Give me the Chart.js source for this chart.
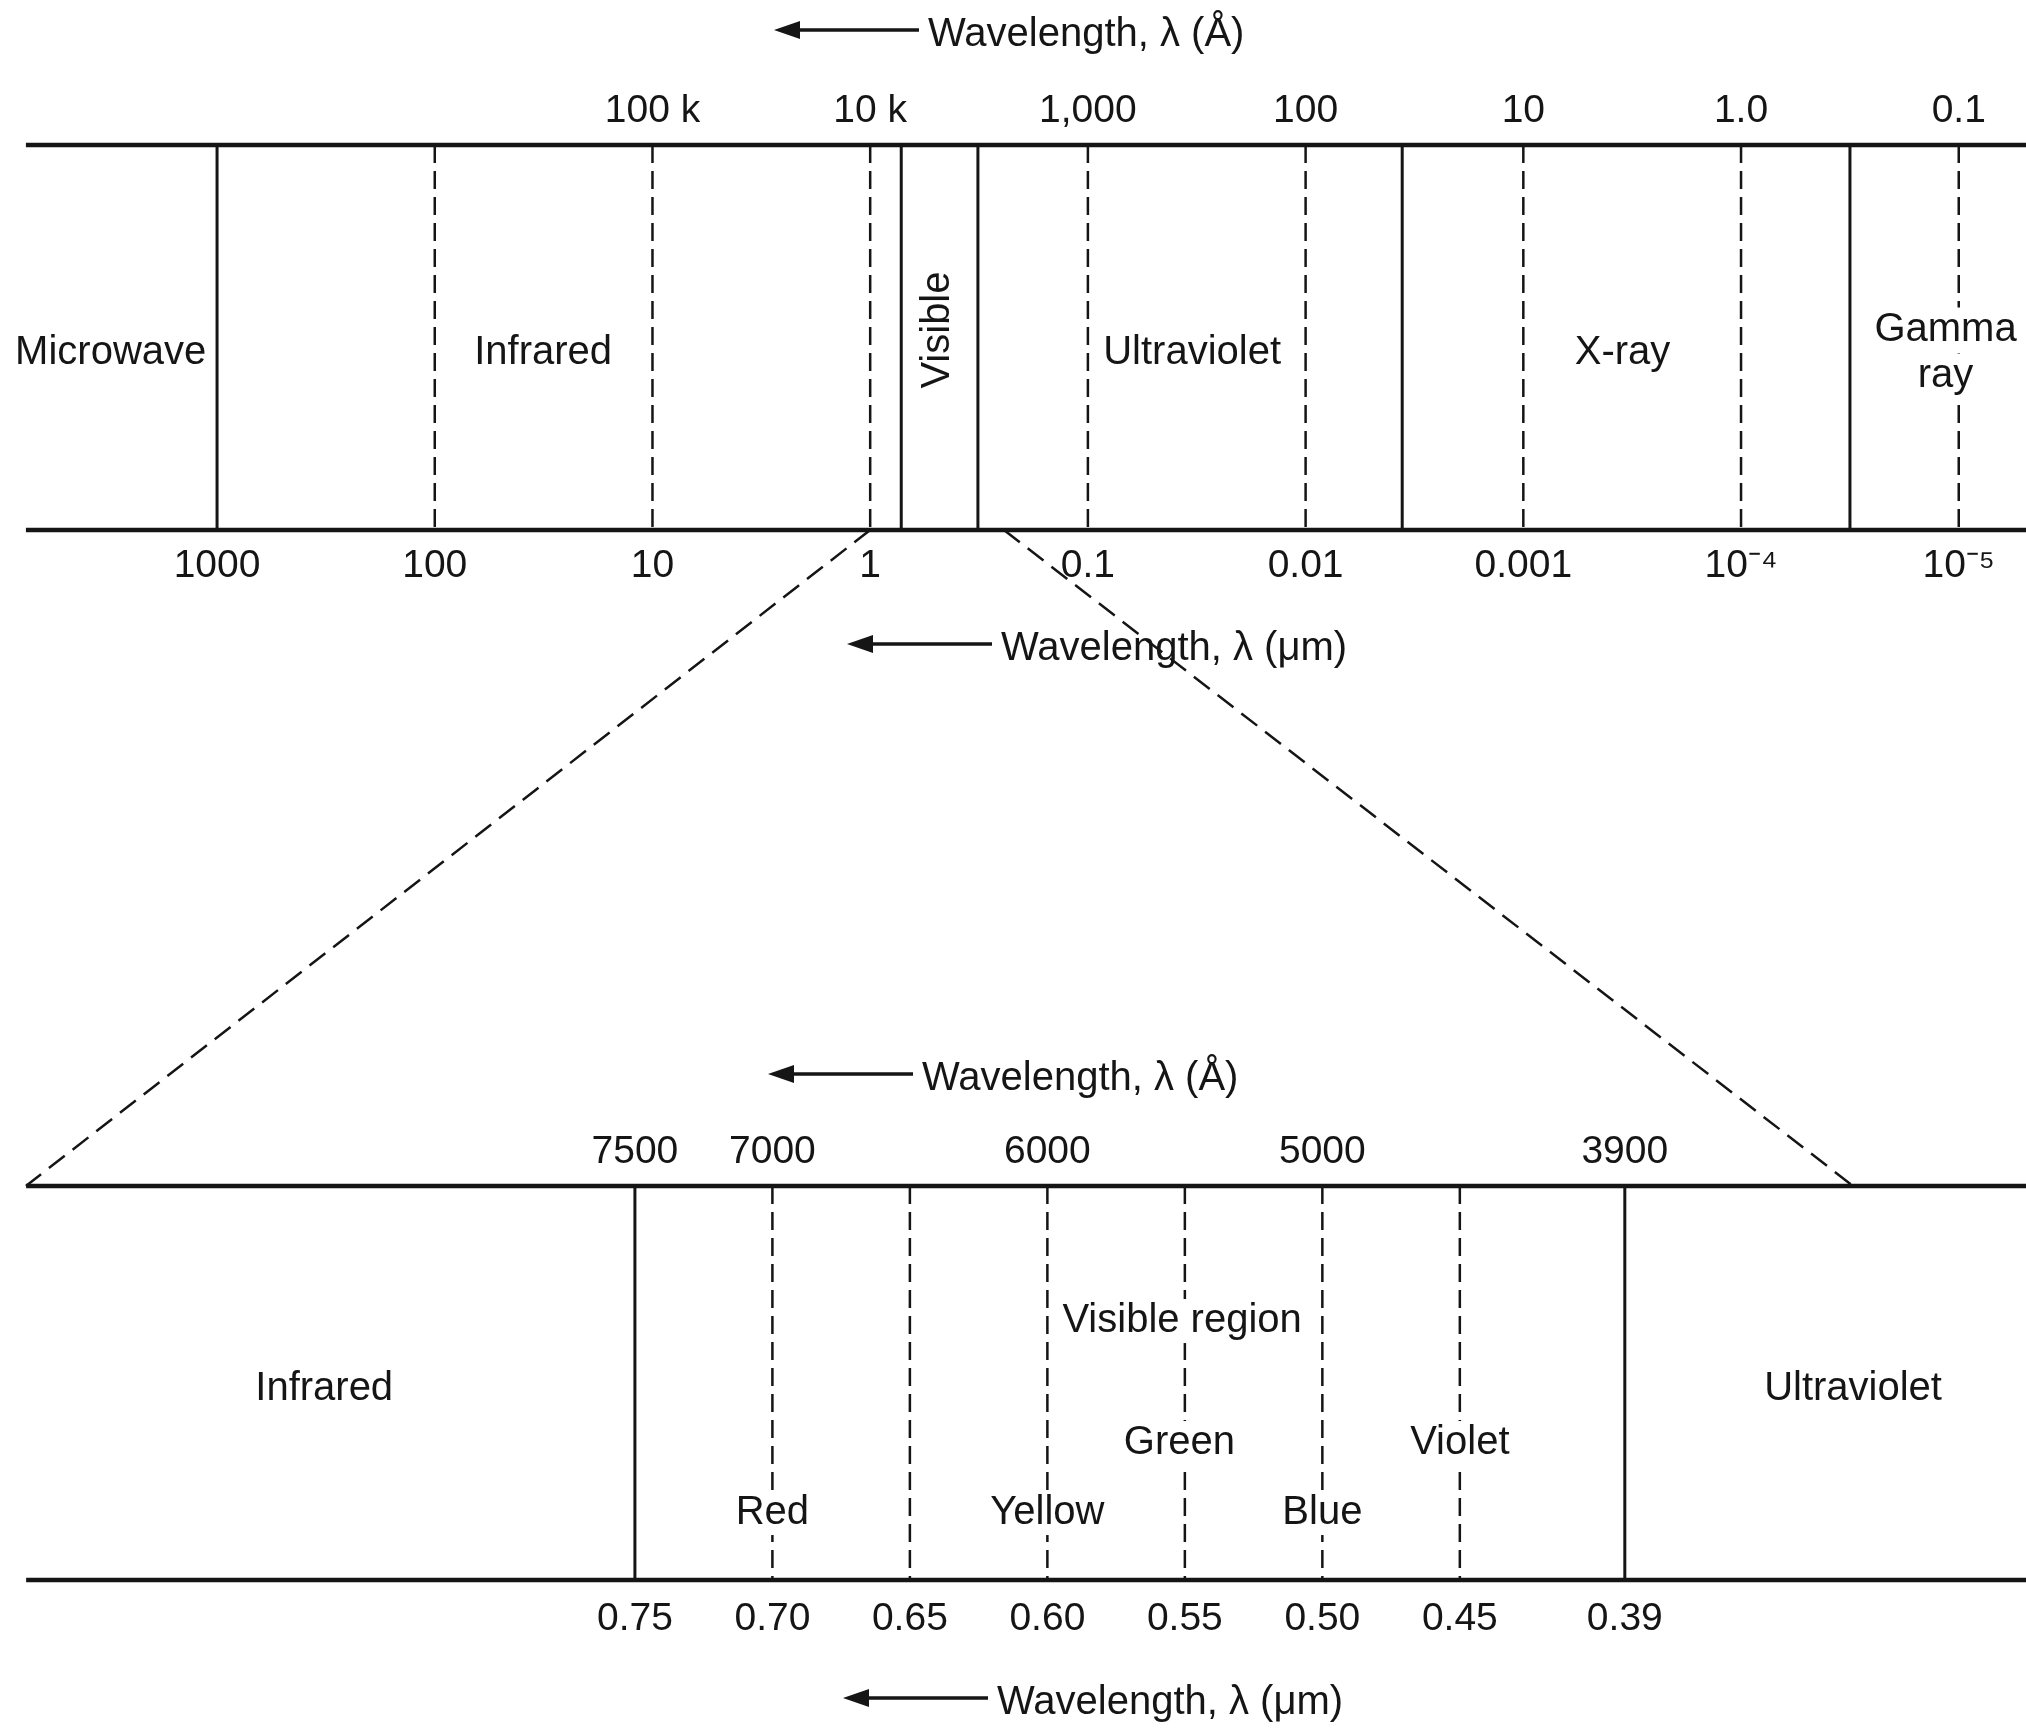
<!DOCTYPE html>
<html>
<head>
<meta charset="utf-8">
<script src="https://cdn.jsdelivr.net/npm/chart.js@4.4.1/dist/chart.umd.min.js"></script>
<style>
    html, body { margin: 0; padding: 0; background: #fff; }
</style>
</head>
<body>
<canvas id="spectrum" width="2026" height="1728"></canvas>
<script>
/*Espectro completo - comprimentos de onda em micrometros*/
const umTicks = [1000, 100, 10, 1, 0.1, 0.01, 0.001, 1e-4, 1e-5]
const umTickLabels = ['1000', '100', '10', '1', '0.1', '0.01', '0.001', '10⁻⁴', '10⁻⁵']
const angTicks = [1e5, 1e4, 1000, 100, 10, 1, 0.1]
const angTickLabels = ['100 k', '10 k', '1,000', '100', '10', '1.0', '0.1']
const regionEdges = [1000, 0.72, 0.32, 0.0036, 3.16e-5]
const decadeLines = [100, 10, 1, 0.1, 0.01, 0.001, 1e-4, 1e-5]
const regionNames = ['Microwave', 'Infrared', 'Visible', 'Ultraviolet', 'X-ray', 'Gamma\nray']
const regionCenters = [3080, 31.8, 0.49, 0.0332, 3.5e-4, 1.15e-5]
const spectrumRange = [4.91e-6, 9930]
const spectrumStart = 7550
const zoomFrom = [1, 0.243]
const zoomTo = [7550, 3.06e-5]

/*Regiao visivel*/
const visTicks = [0.75, 0.70, 0.65, 0.60, 0.55, 0.50, 0.45, 0.39]
const visTickLabels = ['0.75', '0.70', '0.65', '0.60', '0.55', '0.50', '0.45', '0.39']
const visAngTicks = [7500, 7000, 6000, 5000, 3900]
const visAngTickLabels = ['7500', '7000', '6000', '5000', '3900']
const visEdges = [0.75, 0.39]
const colorLines = [0.70, 0.65, 0.60, 0.55, 0.50, 0.45]
const visNames = ['Infrared', 'Visible region', 'Ultraviolet']
const visNameCenters = [0.863, 0.551, 0.307]
const colorNames = ['Red', 'Yellow', 'Green', 'Blue', 'Violet']
const colorCenters = [0.70, 0.60, 0.552, 0.50, 0.45]
const visRange = [0.2441, 0.9809]
const visStart = 0.9714

/*Layout: linhas em % da altura (eixo y de cima para baixo)*/
const INK = '#151515'
const FONT = '"Liberation Sans", Arial, Helvetica, sans-serif'
const BAND1 = {top: 8.39, bottom: 30.67}
const BAND2 = {top: 68.63, bottom: 91.44}
const ROW_TOP = 20.4
const ROW_VISIBLE = 19.1
const visNameRows = [80.38, 76.45, 80.38]
const colorRows = [87.56, 87.56, 83.51, 87.56, 83.51]
const titles = [
    {text: 'Wavelength, λ (Å)', x: 928, row: 2.03},
    {text: 'Wavelength, λ (μm)', x: 1001, row: 37.56},
    {text: 'Wavelength, λ (Å)', x: 922, row: 62.44},
    {text: 'Wavelength, λ (μm)', x: 997, row: 98.55}
]


function segment(axis, x1, y1, x2, y2, width, dash) {
    return {
        xAxisID: axis,
        yAxisID: 'y',
        data: [{x: x1, y: y1}, {x: x2, y: y2}],
        showLine: true,
        borderColor: INK,
        borderWidth: width,
        borderDash: dash || [],
        borderCapStyle: 'butt',
        pointRadius: 0,
        pointHoverRadius: 0,
        fill: false,
        tension: 0
    }
}

/*Monta todas as linhas do diagrama*/
const datasets = []
datasets.push(segment('xA', spectrumStart, BAND1.top, spectrumRange[0], BAND1.top, 4.5))
datasets.push(segment('xA', spectrumStart, BAND1.bottom, spectrumRange[0], BAND1.bottom, 4.5))
regionEdges.forEach(v => datasets.push(segment('xA', v, BAND1.top, v, BAND1.bottom, 3)))
decadeLines.forEach(v => datasets.push(segment('xA', v, BAND1.top, v, BAND1.bottom, 2.5, [18, 8])))
for (let i = 0; i < zoomFrom.length; i++) {
    datasets.push(segment('xA', zoomFrom[i], BAND1.bottom, zoomTo[i], BAND2.top, 2.5, [20, 10]))
}
datasets.push(segment('xB', visStart, BAND2.top, visRange[0], BAND2.top, 4.5))
datasets.push(segment('xB', visStart, BAND2.bottom, visRange[0], BAND2.bottom, 4.5))
visEdges.forEach(v => datasets.push(segment('xB', v, BAND2.top, v, BAND2.bottom, 3)))
colorLines.forEach(v => datasets.push(segment('xB', v, BAND2.top, v, BAND2.bottom, 2.5, [18, 8])))


function tickAxis(type, range, values, labels, bandY, padding) {
    return {
        axis: 'x',
        type: type,
        reverse: true,
        min: range[0],
        max: range[1],
        bounds: 'data',
        position: {y: bandY},
        grid: {display: false, drawTicks: false},
        border: {display: false},
        afterBuildTicks: scale => { scale.ticks = values.map(v => ({value: v})) },
        ticks: {
            autoSkip: false,
            maxRotation: 0,
            minRotation: 0,
            padding: padding,
            color: INK,
            font: {family: FONT, size: 39},
            callback: (value, i) => labels[i]
        }
    }
}


function drawLabel(ctx, text, x, y, boxed) {
    const lines = text.split('\n')
    const lh = 46
    lines.forEach((line, k) => {
        const yy = y + (k - (lines.length - 1) / 2) * lh
        if (boxed) {
            const w = ctx.measureText(line).width
            ctx.fillStyle = '#fff'
            ctx.fillRect(x - w / 2 - 4, yy - 22, w + 8, 44)
        }
        ctx.fillStyle = INK
        ctx.fillText(line, x, yy)
    })
}

function drawArrowTitle(ctx, text, xText, yText) {
    ctx.textAlign = 'left'
    ctx.fillStyle = INK
    ctx.fillText(text, xText, yText)
    const ya = yText - 5
    const x2 = xText - 9
    const x1 = x2 - 145
    ctx.strokeStyle = INK
    ctx.lineWidth = 3.5
    ctx.beginPath()
    ctx.moveTo(x1 + 20, ya)
    ctx.lineTo(x2, ya)
    ctx.stroke()
    ctx.beginPath()
    ctx.moveTo(x1, ya)
    ctx.lineTo(x1 + 26, ya - 9)
    ctx.lineTo(x1 + 26, ya + 9)
    ctx.closePath()
    ctx.fill()
}

/*Textos das regioes e titulos com seta*/
const labelPlugin = {
    id: 'spectrumLabels',
    afterDatasetsDraw(chart) {
        const ctx = chart.ctx
        const xA = chart.scales.xA
        const xB = chart.scales.xB
        const y = chart.scales.y
        ctx.save()
        ctx.font = '40px ' + FONT
        ctx.textAlign = 'center'
        ctx.textBaseline = 'middle'

        regionNames.forEach((name, i) => {
            const px = xA.getPixelForValue(regionCenters[i])
            if (name === 'Visible') {
                ctx.save()
                ctx.translate(px, y.getPixelForValue(ROW_VISIBLE))
                ctx.rotate(-Math.PI / 2)
                ctx.fillStyle = INK
                ctx.fillText(name, 0, 0)
                ctx.restore()
            } else {
                drawLabel(ctx, name, px, y.getPixelForValue(ROW_TOP), true)
            }
        })

        visNames.forEach((name, i) => {
            drawLabel(ctx, name, xB.getPixelForValue(visNameCenters[i]), y.getPixelForValue(visNameRows[i]), true)
        })
        colorNames.forEach((name, i) => {
            drawLabel(ctx, name, xB.getPixelForValue(colorCenters[i]), y.getPixelForValue(colorRows[i]), true)
        })

        titles.forEach(t => drawArrowTitle(ctx, t.text, t.x, y.getPixelForValue(t.row)))
        ctx.restore()
    }
}


const ctx = document.getElementById('spectrum').getContext('2d')
const SpectrumChart = new Chart(ctx, {
    type: 'scatter',
    data: {datasets: datasets},
    options: {
        responsive: false,
        animation: false,
        events: [],
        layout: {padding: 0},
        plugins: {legend: {display: false}, tooltip: {enabled: false}},
        scales: {
            y: {type: 'linear', min: 0, max: 100, reverse: true, display: false},
            xA: tickAxis('logarithmic', spectrumRange, umTicks, umTickLabels, BAND1.bottom, 13),
            xAang: tickAxis('logarithmic', [spectrumRange[0] * 1e4, spectrumRange[1] * 1e4], angTicks, angTickLabels, BAND1.top, -57),
            xB: tickAxis('linear', visRange, visTicks, visTickLabels, BAND2.bottom, 16),
            xBang: tickAxis('linear', [visRange[0] * 1e4, visRange[1] * 1e4], visAngTicks, visAngTickLabels, BAND2.top, -57)
        }
    },
    plugins: [labelPlugin]
});
</script>
</body>
</html>
